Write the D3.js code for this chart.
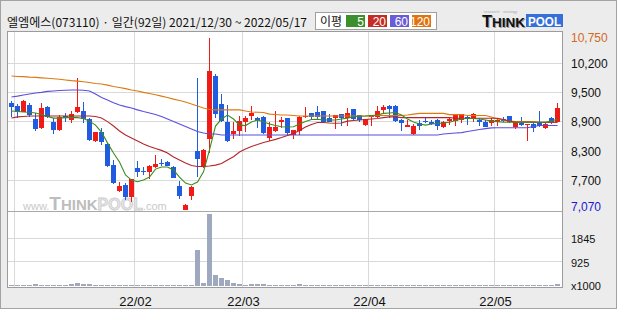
<!DOCTYPE html>
<html>
<head>
<meta charset="utf-8">
<script src="https://cdn.jsdelivr.net/npm/d3@7"></script>
<style>
  body { margin: 0; background: #fff; }
  svg { display: block; }
  .num { font-family: "Liberation Sans", Arial, sans-serif; }
  .kr { font-family: "Noto Sans CJK KR", "Noto Sans", sans-serif; }
</style>
</head>
<body>
<div id="chart"></div>
<script>
  // daily candles, 2021/12/30 ~ 2022/05/17 (92 trading days)
  const opens = [
    9350, 9290, 9170, 9310, 9010, 8810, 9270, 8950, 8780, 9080,
    8990, 9150, 9180, 9020, 8530, 8730, 8470, 8030, 7470, 7610,
    7340, 7960, 7900, 7880, 7990, 8080, 8100, 7980, 7580, 7070,
    7370, 8330, 7990, 8580, 9930, 9330, 8940, 8690, 8760, 8950,
    9080, 9040, 9060, 8600, 8750, 8940, 9030, 8670, 8760, 9050,
    9130, 9150, 9180, 9030, 9030, 9110, 9040, 9220, 9100, 8880,
    9060, 9060, 9200, 9290, 9290, 8990, 8850, 8690, 8920, 8970,
    8950, 8990, 8840, 8970, 8970, 8990, 9060, 9010, 8990, 8940,
    8930, 8940, 9010, 9070, 8840, 8920, 8880, 8900, 8930, 8810,
    9030, 8950
  ];
  const highs = [
    9400, 9330, 9420, 9350, 9130, 9350, 9290, 9030, 9100, 9130,
    9180, 9880, 9380, 9040, 8740, 8820, 8490, 8130, 7670, 7640,
    7730, 8110, 7990, 8030, 8240, 8160, 8110, 8010, 7680, 7190,
    7580, 9880, 8360, 10750, 9970, 9540, 9310, 8940, 9070, 9070,
    9290, 9060, 9070, 8940, 9180, 9060, 9040, 8780, 9070, 9270,
    9140, 9290, 9190, 9120, 9100, 9120, 9250, 9230, 9100, 9010,
    9100, 9290, 9320, 9300, 9300, 9000, 8990, 8900, 8990, 9030,
    8990, 9010, 8970, 9060, 9120, 9120, 9100, 9130, 9030, 8990,
    9030, 9030, 9060, 9080, 8950, 9060, 8910, 8920, 9180, 8940,
    9060, 9360
  ];
  const lows = [
    9060, 9030, 9150, 9060, 8750, 8790, 9040, 8690, 8760, 8950,
    8930, 9140, 8920, 8530, 8520, 8450, 7990, 7630, 7460, 7280,
    7230, 7780, 7810, 7720, 7970, 8010, 8000, 7740, 7300, 7070,
    7280, 7780, 7960, 8280, 9040, 8940, 8510, 8580, 8640, 8740,
    8990, 8820, 8690, 8540, 8740, 8810, 8650, 8580, 8670, 9040,
    9020, 9020, 8920, 8940, 8800, 8870, 8870, 8990, 8940, 8870,
    8870, 9040, 9130, 9040, 8940, 8760, 8830, 8670, 8780, 8920,
    8880, 8780, 8810, 8880, 8870, 8920, 8880, 8950, 8860, 8840,
    8860, 8870, 8940, 8920, 8800, 8870, 8530, 8740, 8850, 8800,
    8900, 8940
  ];
  const closes = [
    9270, 9170, 9400, 9100, 8800, 9240, 9060, 8780, 9060, 9030,
    9120, 9270, 9020, 8560, 8730, 8510, 8010, 7650, 7580, 7340,
    7720, 7880, 7870, 8010, 8050, 8050, 8010, 7760, 7370, 7170,
    7560, 8160, 8350, 10040, 9120, 8970, 8530, 8750, 8970, 9040,
    9140, 8990, 8720, 8850, 8830, 8980, 8720, 8780, 9060, 9070,
    9060, 9050, 8950, 8950, 9100, 9040, 9130, 9010, 8990, 9000,
    9100, 9180, 9270, 9220, 8970, 8930, 8880, 8870, 8870, 8940,
    8900, 8860, 8950, 9010, 9110, 9110, 9030, 9110, 8940, 8850,
    8990, 8990, 8970, 8940, 8940, 8880, 8900, 8810, 8870, 8900,
    8920, 9250
  ];
  // volume, x1000 shares
  const volumes = [
    40, 40, 40, 40, 80, 40, 40, 40, 40, 40,
    80, 115, 80, 80, 40, 40, 40, 40, 40, 40,
    40, 40, 40, 40, 40, 40, 40, 40, 40, 40,
    40, 1380, 115, 2760, 420, 320, 230, 100, 70, 40,
    70, 70, 70, 40, 40, 40, 40, 40, 70, 40,
    40, 40, 40, 40, 40, 40, 40, 40, 40, 40,
    40, 40, 40, 40, 40, 40, 40, 40, 40, 40,
    40, 40, 40, 40, 40, 40, 40, 40, 40, 40,
    40, 40, 40, 40, 40, 40, 40, 40, 40, 40,
    40, 70
  ];
  // moving averages as drawn
  const ma5 = [
    9180, 9170, 9160, 9155, 9140, 9105, 9065, 9030, 9030, 9040,
    9045, 9040, 9020, 8965, 8880, 8730, 8500, 8285, 8090, 7815,
    7705, 7670, 7705, 7770, 7940, 7985, 7985, 7920, 7770, 7640,
    7600, 7665, 7880, 8350, 8860, 9010, 9095, 9010, 8880, 8870,
    8945, 8990, 8945, 8905, 8870, 8845, 8840, 8845, 8905, 8955,
    9000, 9005, 8990, 8990, 8990, 9010, 9030, 9060, 9070, 9075,
    9085, 9095, 9130, 9140, 9150, 9095, 9010, 8945, 8905, 8880,
    8905, 8915, 8925, 8940, 8980, 9010, 9025, 9020, 9010, 8990,
    8965, 8955, 8940, 8940, 8940, 8940, 8940, 8940, 8940, 8940,
    8965, 9010
  ];
  const ma20 = [
    9030, 9055, 9065, 9075, 9075, 9075, 9075, 9075, 9075, 9075,
    9075, 9075, 9075, 9075, 9065, 9030, 8955, 8860, 8755, 8670,
    8605, 8540, 8475, 8425, 8380, 8340, 8285, 8200, 8135, 8070,
    8015, 7995, 7995, 8005, 8025, 8060, 8135, 8205, 8305, 8370,
    8425, 8465, 8510, 8540, 8575, 8615, 8660, 8700, 8765, 8840,
    8895, 8935, 8935, 8925, 8920, 8925, 8965, 8980, 8990, 9000,
    9010, 9020, 9040, 9055, 9055, 9040, 9040, 9040, 9040, 9040,
    9040, 9040, 9040, 9040, 9025, 9025, 9025, 9025, 9025, 9025,
    9025, 9025, 9000, 8965, 8940, 8940, 8940, 8940, 8940, 8940,
    8940, 8940
  ];
  const ma60 = [
    9480, 9500, 9525, 9545, 9565, 9580, 9600, 9610, 9620, 9625,
    9630, 9630, 9625, 9610, 9545, 9470, 9415, 9360, 9310, 9275,
    9245, 9205, 9170, 9140, 9105, 9065, 9010, 8955, 8905, 8850,
    8795, 8745, 8710, 8690, 8690, 8670, 8670, 8670, 8670, 8670,
    8670, 8670, 8670, 8670, 8670, 8670, 8670, 8670, 8670, 8670,
    8670, 8670, 8670, 8670, 8670, 8670, 8670, 8670, 8670, 8670,
    8670, 8670, 8670, 8670, 8670, 8670, 8670, 8670, 8670, 8670,
    8670, 8670, 8690, 8700, 8710, 8720, 8745, 8765, 8785, 8805,
    8820, 8825, 8825, 8825, 8825, 8825, 8825, 8850, 8870, 8870,
    8870, 8870
  ];
  const ma120 = [
    9930, 9920, 9915, 9905, 9900, 9890, 9880, 9870, 9860, 9845,
    9830, 9820, 9805, 9790, 9770, 9760, 9735, 9705, 9685, 9660,
    9630, 9610, 9580, 9555, 9530, 9500, 9470, 9435, 9405, 9375,
    9330, 9290, 9245, 9215, 9205, 9205, 9205, 9205, 9205, 9180,
    9160, 9155, 9150, 9115, 9105, 9095, 9095, 9085, 9075, 9075,
    9075, 9075, 9075, 9075, 9075, 9075, 9075, 9075, 9075, 9075,
    9075, 9085, 9085, 9085, 9085, 9085, 9095, 9115, 9130, 9130,
    9130, 9130, 9130, 9105, 9105, 9105, 9085, 9085, 9085, 9085,
    9055, 9010, 8990, 8965, 8955, 8955, 8955, 8955, 8935, 8935,
    8935, 8935
  ];

  const priceTicks = [7696, 8322, 8948, 9574, 10200];
  const priceTickLabels = ['7,700', '8,300', '8,900', '9,500', '10,200'];
  const volTicks = [925, 1845];
  const volTickLabels = ['925', '1845'];
  const monthStarts = [1, 21, 39, 60, 81];
  const monthLabels = ['', '22/02', '22/03', '22/04', '22/05'];
  const maColors = { ma5: '#3b8c1e', ma20: '#b3262a', ma60: '#5b4fdc', ma120: '#dc7a10' };
  const legend = [
    { label: '5', color: '#3c8f2a' },
    { label: '20', color: '#c62c24' },
    { label: '60', color: '#6a5bd6' },
    { label: '120', color: '#e07312' }
  ];

  const N = closes.length;
  const x = d3.scalePoint().domain(d3.range(N)).range([11.5, 557.5]);
  const y = d3.scaleLinear().domain([7070, 10750]).range([209.8, 37.6]);
  const yv = d3.scaleLinear().domain([0, 2770]).range([286, 214]);

  const svg = d3.select('#chart').append('svg')
    .attr('width', 620).attr('height', 310);

  // frame and panel
  svg.append('rect')
    .attr('x', 0.5).attr('y', 0.5).attr('width', 616).attr('height', 308)
    .attr('fill', '#ececec').attr('stroke', '#a3a3a3');
  svg.append('rect')
    .attr('x', 7.5).attr('y', 31.5).attr('width', 555).attr('height', 256)
    .attr('fill', '#fff').attr('stroke', '#9c9c9c');

  // grid
  const grid = svg.append('g').attr('stroke', '#d9d9d9').attr('shape-rendering', 'crispEdges');
  grid.selectAll('line.v').data(monthStarts).join('line').attr('class', 'v')
    .attr('x1', d => x(d) - 3).attr('x2', d => x(d) - 3)
    .attr('y1', 32).attr('y2', 287);
  grid.selectAll('line.hp').data(priceTicks).join('line').attr('class', 'hp')
    .attr('x1', 8).attr('x2', 562)
    .attr('y1', d => Math.floor(y(d)) + 0.5).attr('y2', d => Math.floor(y(d)) + 0.5);
  grid.selectAll('line.hv').data(volTicks).join('line').attr('class', 'hv')
    .attr('x1', 8).attr('x2', 562)
    .attr('y1', d => Math.floor(yv(d)) + 0.5).attr('y2', d => Math.floor(yv(d)) + 0.5);

  svg.append('line')
    .attr('x1', 8).attr('x2', 562).attr('y1', 211.5).attr('y2', 211.5)
    .attr('stroke', '#a8a8a8');

  // watermark
  const wm = svg.append('text').attr('class', 'num')
    .attr('x', 23).attr('y', 210).attr('fill', '#c9c9c9');
  wm.append('tspan').attr('font-size', 11).text('www.');
  wm.append('tspan').attr('font-size', 19).attr('font-weight', 'bold').attr('fill', '#bdbdbd').text('T');
  wm.append('tspan').attr('font-size', 15).attr('font-weight', 'bold').attr('fill', '#bdbdbd').text('HINK');
  wm.append('tspan').attr('font-size', 16).attr('font-weight', 'bold')
    .attr('fill', '#e6e6e6').attr('stroke', '#cdcdcd').attr('stroke-width', 0.8).text('POOL');
  wm.append('tspan').attr('font-size', 11).text('.com');

  // volume
  svg.append('g').attr('fill', '#9ea8bf').attr('shape-rendering', 'crispEdges')
    .selectAll('rect').data(volumes).join('rect')
    .attr('x', (d, i) => x(i) - 2.5)
    .attr('width', 5)
    .attr('y', d => Math.min(285, Math.round(yv(d))))
    .attr('height', d => 286 - Math.min(285, Math.round(yv(d))));

  // candles
  const candles = d3.range(N).map(i => ({ i, o: opens[i], h: highs[i], l: lows[i], c: closes[i] }));
  const col = d => d.c >= d.o ? '#f01a16' : '#1f5ce0';
  const cg = svg.append('g').attr('shape-rendering', 'crispEdges');
  cg.selectAll('line').data(candles).join('line')
    .attr('x1', d => x(d.i)).attr('x2', d => x(d.i))
    .attr('y1', d => Math.round(y(d.h))).attr('y2', d => Math.round(y(d.l)))
    .attr('stroke', col);
  cg.selectAll('rect').data(candles).join('rect')
    .attr('x', d => x(d.i) - 2.5).attr('width', 5)
    .attr('y', d => Math.round(y(Math.max(d.o, d.c))))
    .attr('height', d => Math.max(1, Math.round(y(Math.min(d.o, d.c))) - Math.round(y(Math.max(d.o, d.c)))))
    .attr('fill', col);

  // moving averages
  const line = d3.line().x((d, i) => x(i)).y(d => y(d));
  [['ma120', ma120], ['ma60', ma60], ['ma20', ma20], ['ma5', ma5]].forEach(([k, s]) => {
    svg.append('path').attr('d', line(s))
      .attr('fill', 'none').attr('stroke', maColors[k]).attr('stroke-width', 1.1);
  });

  // right axes
  const pAxis = svg.append('g').attr('transform', 'translate(568,0)')
    .call(d3.axisRight(y).tickValues(priceTicks).tickFormat((d, i) => priceTickLabels[i]).tickSize(0).tickPadding(3));
  pAxis.select('.domain').remove();
  pAxis.selectAll('text').attr('class', 'num').attr('font-size', 12).attr('fill', '#111')
    .attr('y', d => Math.floor(y(d)) + 0.5 - y(d)).attr('dy', '0.36em');
  pAxis.attr('font-family', null).attr('font-size', null);

  svg.append('text').attr('class', 'num').attr('x', 571).attr('y', y(10750) + 4.5)
    .attr('font-size', 12).attr('fill', '#d2691e').text('10,750');
  svg.append('text').attr('class', 'num').attr('x', 571).attr('y', 206.5 + 4.5)
    .attr('font-size', 12).attr('fill', '#1a1ad0').text('7,070');

  const vAxis = svg.append('g').attr('transform', 'translate(568,0)')
    .call(d3.axisRight(yv).tickValues(volTicks).tickFormat((d, i) => volTickLabels[i]).tickSize(0).tickPadding(3));
  vAxis.select('.domain').remove();
  vAxis.selectAll('text').attr('class', 'num').attr('font-size', 11).attr('fill', '#111').attr('dy', '0.45em');
  vAxis.attr('font-family', null).attr('font-size', null);
  svg.append('text').attr('class', 'num').attr('x', 571).attr('y', 290)
    .attr('font-size', 11).attr('fill', '#111').text('x1000');

  // month labels
  svg.append('g').selectAll('text').data(monthStarts).join('text')
    .attr('class', 'num').attr('font-size', 13).attr('fill', '#111')
    .attr('text-anchor', 'middle')
    .attr('x', d => x(d) - 2).attr('y', 305.5)
    .text((d, i) => monthLabels[i]);

  // title
  svg.append('text').attr('class', 'kr')
    .attr('x', 7).attr('y', 26.5).attr('font-size', 12).attr('fill', '#111')
    .attr('textLength', 300).attr('lengthAdjust', 'spacingAndGlyphs')
    .text('엘엠에스(073110) · 일간(92일) 2021/12/30 ~ 2022/05/17');

  // MA legend
  const lg = svg.append('g');
  lg.append('rect').attr('x', 315.5).attr('y', 12.5).attr('width', 121).attr('height', 17)
    .attr('fill', '#fff').attr('stroke', '#a0a0a0');
  lg.append('text').attr('class', 'kr').attr('x', 320).attr('y', 26)
    .attr('font-size', 12).attr('fill', '#111').text('이평');
  const items = lg.selectAll('g.item').data(legend).join('g').attr('class', 'item')
    .attr('transform', (d, i) => `translate(${346 + i * 22},15)`);
  items.append('rect').attr('width', 19).attr('height', 12).attr('fill', d => d.color);
  items.append('text').attr('class', 'num').attr('x', 18).attr('y', 10.5)
    .attr('text-anchor', 'end').attr('font-size', 12).attr('fill', '#fff').text(d => d.label);

  // THINKPOOL logo
  const logo = svg.append('g').attr('class', 'num').attr('font-weight', 'bold');
  [['#9a9a9a', 1], ['#111', 0]].forEach(([c, off]) => {
    const t = logo.append('text').attr('x', 482 + off).attr('y', 27 + off).attr('fill', c)
      .attr('textLength', 43).attr('lengthAdjust', 'spacingAndGlyphs');
    t.append('tspan').attr('font-size', 16).text('T');
    t.append('tspan').attr('font-size', 13).text('HINK');
  });
  logo.append('rect').attr('x', 526).attr('y', 14).attr('width', 37).attr('height', 13).attr('fill', '#3570d8');
  logo.append('text').attr('x', 528).attr('y', 26).attr('font-size', 13).attr('fill', '#fff')
    .attr('textLength', 33).attr('lengthAdjust', 'spacingAndGlyphs').text('POOL');
  logo.append('text').attr('x', 484).attr('y', 13).attr('font-size', 4).attr('font-weight', 'normal')
    .attr('fill', '#aaa').text('research · strategy');
</script>
</body>
</html>
